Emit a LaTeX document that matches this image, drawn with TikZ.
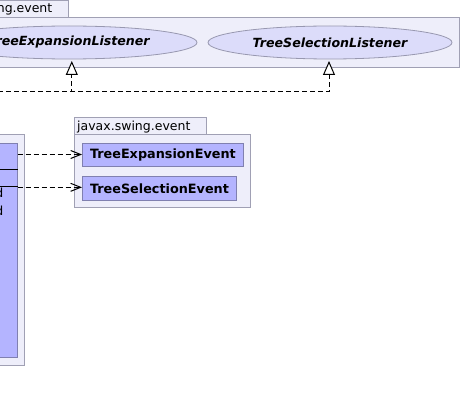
\documentclass[tikz,border=0pt]{standalone}
\usepackage{fontspec}
\setmainfont{DejaVu Sans}
\usetikzlibrary{arrows.meta,shapes.geometric}
\definecolor{pkgfill}{HTML}{EEEEFA}
\definecolor{pkgdraw}{HTML}{A0A0B4}
\definecolor{clsfill}{HTML}{B4B4FF}
\definecolor{clsdraw}{HTML}{8080B0}
\definecolor{ellfill}{HTML}{DCDCFA}
\definecolor{elldraw}{HTML}{9898B0}
\tikzset{
  box/.style={draw, line width=1pt, inner sep=0pt, anchor=north west},
  pkg/.style={box, draw=pkgdraw, fill=pkgfill},
  cls/.style={box, draw=clsdraw, fill=clsfill},
  evcls/.style={draw=clsdraw, fill=clsfill, line width=1pt, anchor=west,
    inner xsep=7.5pt, inner ysep=0pt, minimum height=23.4pt, font=\fontsize{12.8}{15}\selectfont\bfseries},
  iface/.style={ellipse, draw=elldraw, fill=ellfill, line width=0.8pt, inner sep=0pt,
    minimum height=33pt, font=\fontsize{12.6}{15}\selectfont\bfseries\itshape},
  lbl/.style={inner sep=0pt, font=\fontsize{12.5}{15}\selectfont},
  realize/.style={draw=black, line width=1pt, dash pattern=on 5pt off 3pt,
    -{Triangle[open, length=14pt, width=12pt, fill=white]}},
  dep/.style={draw=black, line width=1pt, dash pattern=on 5pt off 3pt,
    -{Straight Barb[length=10pt, width=8pt]}},
}
\begin{document}
\begin{tikzpicture}[x=1pt, y=-1pt]
\useasboundingbox (0,0) rectangle (460,401);
\clip (0,0) rectangle (460,401);
\fill[white] (0,0) rectangle (460,401);
% top package
\node[pkg, minimum width=88pt, minimum height=17pt] (tab1) at (-20,0) {};
\node[pkg, minimum width=479pt, minimum height=50pt] (body1) at (-20,17) {};
\node[lbl, anchor=base east] (name1) at (52.5,13) {javax.swing.event};
\node[iface, minimum width=256pt] (tel) at (69,42.5) {TreeExpansionListener};
\node[iface, minimum width=244pt] (tsl) at (330,42.5) {TreeSelectionListener};
% left package with class
\node[pkg, minimum width=44pt, minimum height=231pt] (pkg2) at (-20,134) {};
\node[cls, minimum width=36.7pt, minimum height=213.7pt] (cls) at (-20,143.3) {};
\draw[black, line width=1pt] (-20,169.5) -- (cls.east |- 0,169.5);
\draw[black, line width=1pt] (-20,186) -- (cls.east |- 0,186);
\node[lbl, anchor=base east] (op1) at (3.5,197.5) {d};
\node[lbl, anchor=base east] (op2) at (3.5,215) {d};
% right package
\node[pkg, minimum width=132pt, minimum height=17pt] (tab3) at (74,117) {};
\node[pkg, minimum width=176pt, minimum height=73pt] (body3) at (74,134) {};
\node[lbl, anchor=base west] (name3) at (77,130) {javax.swing.event};
\node[evcls] (tee) at (82,155) {TreeExpansionEvent};
\node[evcls] (tse) at (82,188.3) {TreeSelectionEvent};
% connectors
\coordinate (src) at (-10,92);
\coordinate (t1) at (71.8,61);
\coordinate (t2) at (329,61);
\draw[realize] (src) -| (t1);
\draw[realize] (src) -| (t2);
\draw[dep] (cls.east |- 0,154.5) -- (tee.west |- 0,154.5);
\draw[dep] (cls.east |- 0,187.3) -- (tse.west |- 0,187.3);
\end{tikzpicture}
\end{document}
